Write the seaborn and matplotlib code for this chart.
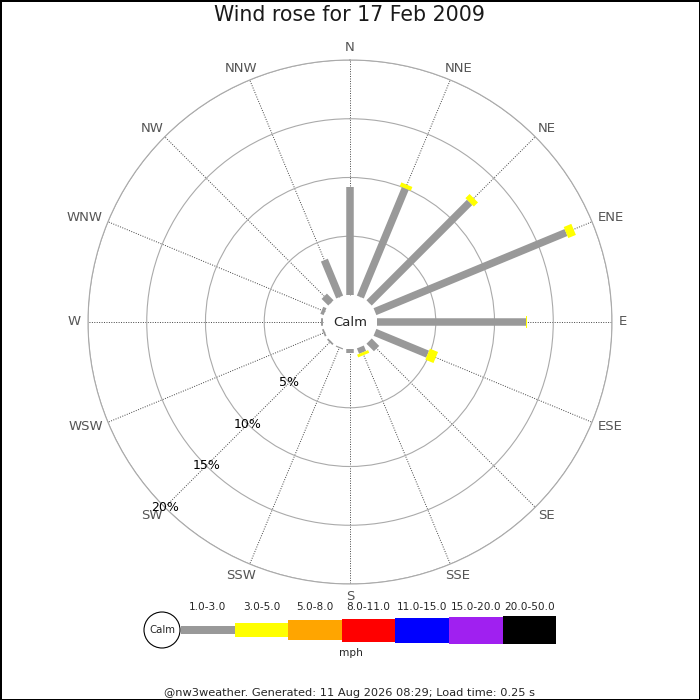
import numpy as np
import seaborn as sns
import matplotlib.pyplot as plt
from matplotlib.patches import Circle

# wind directions and frequency (%) per speed class
directions = ['N', 'NNE', 'NE', 'ENE', 'E', 'ESE', 'SE', 'SSE',
              'S', 'SSW', 'SW', 'WSW', 'W', 'WNW', 'NW', 'NNW']
pct_1_3 = [9.2, 10.0, 12.1, 17.6, 12.65, 4.85, 0.9, 0.5,
           0.3, 0.1, 0.15, 0.15, 0.15, 0.3, 0.8, 3.4]
pct_3_5 = [0.0, 0.35, 0.5, 0.7, 0.15, 0.75, 0.0, 0.25,
           0.0, 0.0, 0.0, 0.0, 0.0, 0.0, 0.0, 0.0]

speed_labels = ['1.0-3.0', '3.0-5.0', '5.0-8.0', '8.0-11.0',
                '11.0-15.0', '15.0-20.0', '20.0-50.0']
speed_colors = ['#999999', '#ffff00', '#ffa500', '#ff0000',
                '#0000ff', '#a020f0', '#000000']
legend_heights = [7.7, 14, 20, 23, 25, 27, 28]

ring_pcts = [5, 10, 15, 20]
calm_r = -2.3  # radius of the calm disc, in % units below zero

sns.set_theme(style='white')
plt.rcParams['font.family'] = ['DejaVu Sans']

fig = plt.figure(figsize=(7, 7), dpi=100)
fig.patch.set_edgecolor('black')
fig.patch.set_linewidth(2)

# polar axes: centre at (350, 322) px, radius 262 px
R = 262 / 700
cy = 1 - 322 / 700
ax = fig.add_axes([0.5 - R, cy - R, 2 * R, 2 * R], projection='polar')
ax.set_theta_zero_location('N')
ax.set_theta_direction(-1)
ax.set_ylim(calm_r, 20)
ax.set_facecolor('none')

theta = np.deg2rad(np.arange(len(directions)) * 22.5)
ax.set_xticks(theta)
ax.set_xticklabels([])
ax.set_yticks(ring_pcts)
ax.set_yticklabels([])
ax.tick_params(length=0)
ax.xaxis.grid(True, linestyle=(0, (1, 1.5)), color='#444444', linewidth=0.7)
ax.yaxis.grid(True, linestyle='-', color='#aaaaaa', linewidth=0.8)
ax.spines['polar'].set_color('#aaaaaa')
ax.spines['polar'].set_linewidth(0.8)

# white calm disc over the spokes' inner ends
ring = np.linspace(0, 2 * np.pi, 200)
ax.fill_between(ring, calm_r, 0, color='white', linewidth=0, zorder=2.6)

for t, g, y in zip(theta, pct_1_3, pct_3_5):
    ax.plot([t, t], [0, g], color=speed_colors[0], lw=5.4,
            solid_capstyle='butt', zorder=3)
    if y > 0:
        ax.plot([t, t], [g, g + y], color=speed_colors[1], lw=8.6,
                solid_capstyle='butt', zorder=4)

# direction labels pushed outwards by half their own size
renderer = fig.canvas.get_renderer()
px2pt = 72 / 100
for t, name in zip(theta, directions):
    lab = ax.annotate(name, xy=(t, 20), xytext=(0, 0),
                      textcoords='offset points', color='#555555',
                      fontsize=9.5, ha='center', va='center',
                      annotation_clip=False)
    bb = lab.get_window_extent(renderer)
    s, c = np.sin(t), np.cos(t)
    dx = (7 + bb.width / 2) * s
    dy = (7 + 5) * c
    lab.xyann = (dx * px2pt, dy * px2pt)

for p in ring_pcts:
    ax.text(np.deg2rad(225), p, f'{p}%', color='black', fontsize=9,
            ha='center', va='center', zorder=5)

fig.text(0.5, cy, 'Calm', fontsize=9.5, ha='center', va='center', zorder=6)
fig.text(0.5, 1 - 15 / 700, 'Wind rose for 17 Feb 2009', fontsize=14.8,
         ha='center', va='center', color='#1a1a1a')

# speed legend, axes in pixel units
lax = fig.add_axes([140 / 700, 1 - 660 / 700, 420 / 700, 60 / 700])
lax.set_xlim(0, 420)
lax.set_ylim(-30, 30)
lax.axis('off')
seg = 53.6
x0 = 41
xs = [x0 + seg * (i + 0.5) for i in range(len(speed_labels))]
lax.bar(xs, legend_heights, bottom=[-h / 2 for h in legend_heights],
        width=seg, color=speed_colors, linewidth=0)
for x, lab in zip(xs, speed_labels):
    lax.text(x, 22.5, lab, fontsize=7.6, ha='center', va='center')
lax.text(211, -23.5, 'mph', fontsize=7.6, ha='center', va='center')
lax.add_patch(Circle((22, 0), 18, facecolor='white', edgecolor='black',
                     linewidth=0.8, zorder=3))
lax.text(22, 0, 'Calm', fontsize=7.3, ha='center', va='center', zorder=4)

fig.text(0.5, 1 - 693 / 700,
         '@nw3weather. Generated: 11 Aug 2026 08:29; Load time: 0.25 s',
         fontsize=8.2, ha='center', va='center')

fig.savefig('out.png', dpi=100, edgecolor=fig.get_edgecolor())
